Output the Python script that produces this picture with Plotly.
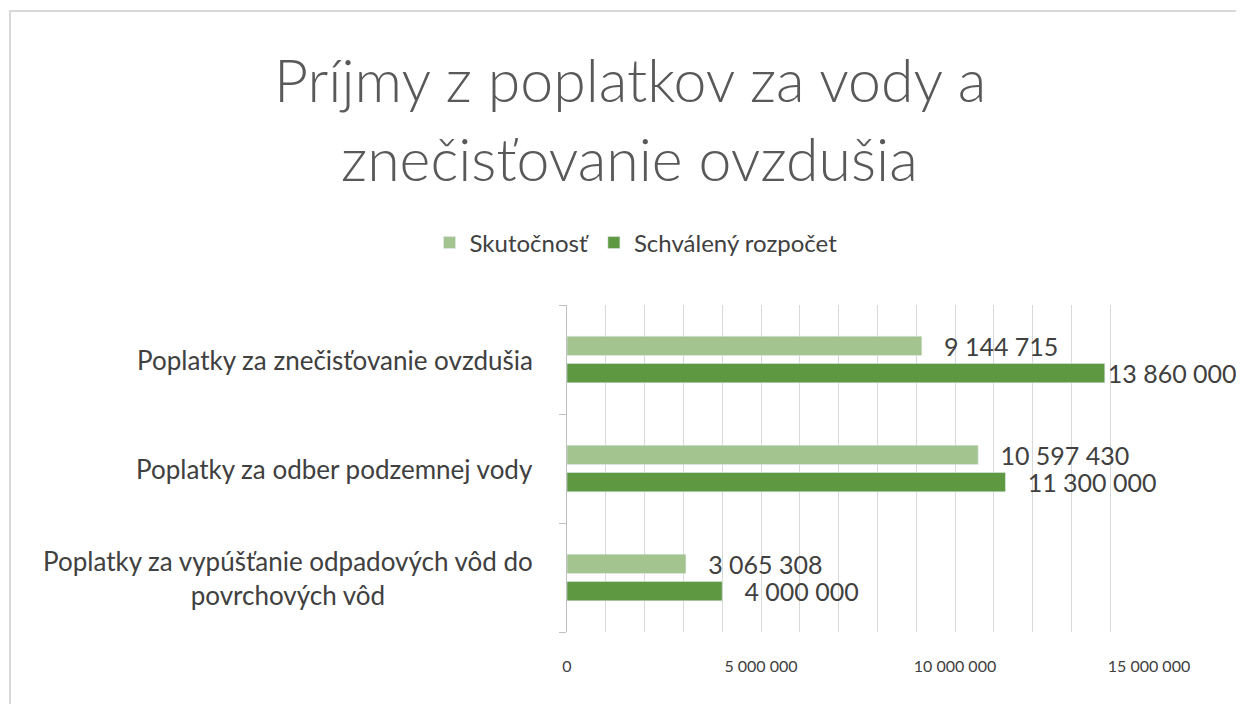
import plotly.graph_objects as go

categories = [
    "Poplatky za vypúšťanie odpadových vôd do<br>povrchových vôd",
    "Poplatky za odber podzemnej vody",
    "Poplatky za znečisťovanie ovzdušia",
]
skutocnost = [3065308, 10597430, 9144715]
schvaleny = [4000000, 11300000, 13860000]
series_names = ["Skutočnosť", "Schválený rozpočet"]
title_lines = ["Príjmy z poplatkov za vody a", "znečisťovanie ovzdušia"]
tick_values = [0, 5000000, 10000000, 15000000]
X_MAX = 15000000

FONT = "Lato"
TXT = "#404040"
LIGHT = "#A3C48F"
DARK = "#5E9840"

# page body has an 8px margin: plot area in screen px is x 567..1149, y 305..632
PL, PR, PT, PB = 567, 1149, 305, 632
PW, PH = PR - PL, PB - PT


def fmt(v):
    # labels close to the right edge get no padding (as in the original)
    pad = "" if v > 0.85 * X_MAX else "   "
    return pad + f"{v:,}".replace(",", " ")


def px_x(sx):
    return (sx - PL) / PW


def px_y(sy):
    return (PB - sy) / PH


fig = go.Figure()
fig.add_trace(go.Bar(
    y=categories, x=schvaleny, orientation="h", name=series_names[1],
    marker_color=DARK, text=[fmt(v) for v in schvaleny], textposition="outside",
    textfont=dict(family=FONT, size=25, color=TXT), cliponaxis=False,
    constraintext="none", legendrank=2,
))
fig.add_trace(go.Bar(
    y=categories, x=skutocnost, orientation="h", name=series_names[0],
    marker_color=LIGHT, text=[fmt(v) for v in skutocnost], textposition="outside",
    textfont=dict(family=FONT, size=25, color=TXT), cliponaxis=False,
    constraintext="none", legendrank=1,
))

annotations = []
for c in categories:
    annotations.append(dict(
        x=0, xref="paper", y=c, yref="y", xanchor="right", xshift=-32,
        text=c, showarrow=False, align="center",
        font=dict(family=FONT, size=26, color=TXT),
    ))
annotations.append(dict(x=px_x(629.5), xref="paper", y=px_y(80), yref="paper", text=title_lines[0],
                        showarrow=False, xanchor="center", yanchor="middle",
                        font=dict(family=FONT, size=59, color="#595959", weight=300)))
annotations.append(dict(x=px_x(629.5), xref="paper", y=px_y(158), yref="paper", text=title_lines[1],
                        showarrow=False, xanchor="center", yanchor="middle",
                        font=dict(family=FONT, size=59, color="#595959", weight=300)))

fig.update_layout(
    width=1236, height=696,
    margin=dict(l=PL - 8, r=1244 - PR, t=PT - 8, b=704 - PB),
    paper_bgcolor="white", plot_bgcolor="white",
    barmode="group", bargap=0.5, bargroupgap=0.29,
    separators=", ",
    showlegend=True,
    legend=dict(orientation="h", x=px_x(636), xanchor="center", y=px_y(243), yanchor="middle",
                font=dict(family=FONT, size=24, color=TXT), traceorder="normal",
                itemwidth=30, bgcolor="rgba(0,0,0,0)"),
    annotations=annotations,
    xaxis=dict(range=[0, X_MAX], tickvals=tick_values, tickformat=",d",
               showgrid=True, gridcolor="#D9D9D9", gridwidth=1,
               minor=dict(dtick=1000000, showgrid=True, gridcolor="#D9D9D9", gridwidth=1),
               zeroline=False, showline=False, ticks="",
               tickfont=dict(family=FONT, size=16, color=TXT), ticklabelstandoff=23),
    yaxis=dict(showticklabels=False, showline=True, linecolor="#BFBFBF", linewidth=1,
               ticks="outside", tickson="boundaries", ticklen=7, tickcolor="#BFBFBF",
               showgrid=False, zeroline=False),
    shapes=[dict(type="rect", xref="paper", yref="paper",
                 x0=px_x(10), x1=px_x(1260),
                 y0=px_y(720), y1=px_y(11),
                 line=dict(color="#D9D9D9", width=2), fillcolor="rgba(0,0,0,0)", layer="below")],
)

fig.write_html("out.html")
